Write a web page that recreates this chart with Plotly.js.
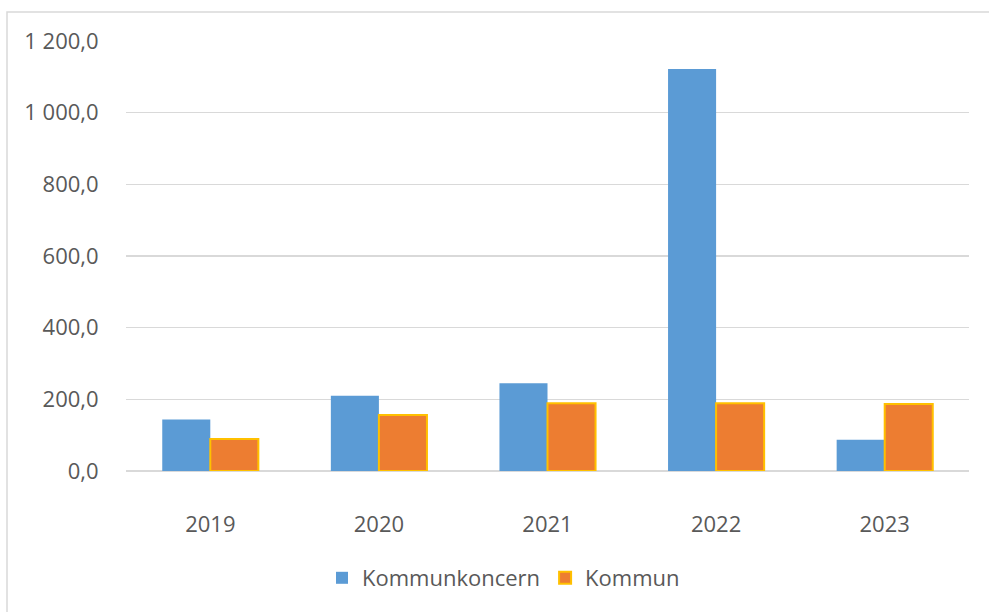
<!DOCTYPE html>
<html>
<head>
<meta charset="utf-8">
<script src="https://cdn.plot.ly/plotly-3.0.1.min.js"></script>
<style>
  html, body { margin: 0; padding: 0; background: #ffffff; }
  #chart { width: 989px; height: 612px; }
</style>
</head>
<body>
<div id="chart"></div>
<script>
const years = ['2019', '2020', '2021', '2022', '2023'];
const kommunkoncern = [144, 210, 245, 1122, 87];
const kommun = [89, 156, 189, 189, 187];
const yTickVals = [0, 200, 400, 600, 800, 1000, 1200];
const yTickText = ['0,0', '200,0', '400,0', '600,0', '800,0', '1 000,0', '1 200,0'];

const fontFam = '"Open Sans", "DejaVu Sans", sans-serif';
const textColor = '#595959';

const traces = [
  {
    type: 'bar', name: 'Kommunkoncern', x: years, y: kommunkoncern,
    marker: { color: '#5B9BD5', line: { color: '#5B9BD5', width: 0 } },
    hoverinfo: 'none'
  },
  {
    type: 'bar', name: 'Kommun', x: years, y: kommun,
    marker: { color: '#ED7D31', line: { color: '#FFC000', width: 2 } },
    hoverinfo: 'none'
  }
];

const L = 126, R = 969, T = 41, B = 471;
const pw = R - L, ph = B - T;
function px2x(p) { return (p - L) / pw; }
function py2y(p) { return (B - p) / ph; }

const layout = {
  width: 989, height: 612,
  margin: { l: L, r: 989 - R, t: T, b: 612 - B, pad: 0 },
  paper_bgcolor: '#ffffff', plot_bgcolor: '#ffffff',
  font: { family: fontFam, size: 22, color: textColor },
  barmode: 'group', bargap: 0.43, bargroupgap: 0,
  showlegend: true,
  legend: {
    orientation: 'h', x: px2x(322), xanchor: 'left', y: py2y(578), yanchor: 'middle',
    font: { family: fontFam, size: 22, color: textColor },
    itemwidth: 30, bgcolor: 'rgba(0,0,0,0)'
  },
  xaxis: {
    type: 'category', showgrid: false, zeroline: false, showline: false,
    ticks: 'outside', ticklen: 34, tickcolor: 'rgba(0,0,0,0)',
    tickfont: { family: fontFam, size: 22, color: textColor },
    fixedrange: true
  },
  yaxis: {
    range: [0, 1200], tickvals: yTickVals, ticktext: yTickText,
    showgrid: true, gridcolor: '#d9d9d9', gridwidth: 1.5,
    zeroline: true, zerolinecolor: '#d9d9d9', zerolinewidth: 1.5,
    showline: false,
    ticks: 'outside', ticklen: 22, tickcolor: 'rgba(0,0,0,0)',
    tickfont: { family: fontFam, size: 22, color: textColor },
    fixedrange: true
  },
  shapes: [
    {
      type: 'rect', xref: 'paper', yref: 'paper', layer: 'below',
      x0: px2x(7), x1: px2x(1010), y0: py2y(640), y1: py2y(12),
      line: { color: '#d9d9d9', width: 1.5 }, fillcolor: 'rgba(0,0,0,0)'
    }
  ]
};

Plotly.newPlot('chart', traces, layout, { displayModeBar: false, staticPlot: true });
</script>
</body>
</html>
